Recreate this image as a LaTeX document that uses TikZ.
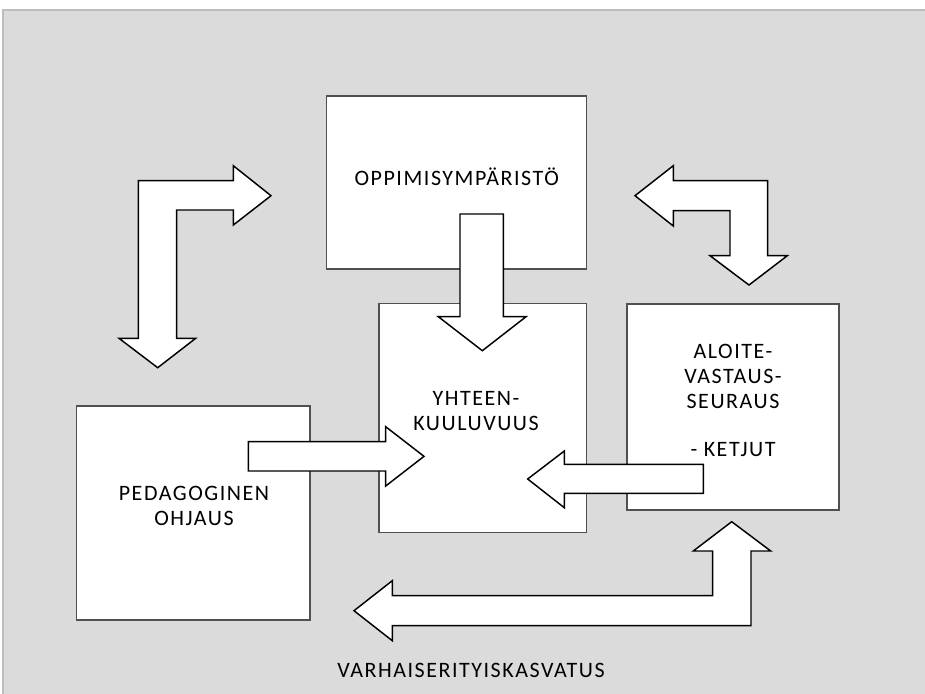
\documentclass[tikz,border=0pt]{standalone}
\usepackage{fontspec}
\setmainfont{Carlito}[LetterSpace=7]
\definecolor{canvas}{HTML}{DBDBDB}
\definecolor{frameline}{HTML}{BDBDBD}
\definecolor{boxline}{HTML}{505050}
\begin{document}
\begin{tikzpicture}[x=0.75pt,y=-0.75pt,
  box/.style={draw=boxline, fill=white, line width=1.1pt, inner sep=0pt},
  blockarrow/.style={draw=black, fill=white, line width=1.1pt, line join=miter},
  label/.style={inner sep=0pt, align=center, font=\fontsize{16.5}{18.75}\selectfont}]
\useasboundingbox (0,0) rectangle (925,693);
\fill[white] (0,0) rectangle (925,693);
\filldraw[fill=canvas, draw=frameline, line width=0.8pt] (3,10) rectangle (927,695);

% the four concept boxes
\node[box, minimum width=195pt, minimum height=129.75pt] (oppi) at (456.7,182.5) {};
\node[box, minimum width=155.8pt, minimum height=172pt] (yhteen) at (482.85,418) {};
\node[box, minimum width=159pt, minimum height=154.5pt] (aloite) at (733,407) {};
\node[box, minimum width=175pt, minimum height=160.5pt] (ped) at (193.35,513) {};

% bent double arrow, upper left
\draw[blockarrow] (271,195.7) -- (233.3,165.7) -- (233.3,180.7) -- (138.3,180.7)
  -- (138.3,338.3) -- (119,338.3) -- (157.7,367.7) -- (195.7,338.3) -- (176.7,338.3)
  -- (176.7,210) -- (233.3,210) -- (233.3,225) -- cycle;

% bent double arrow, upper right
\draw[blockarrow] (635,195.7) -- (673.3,165.7) -- (673.3,180.7) -- (767.7,180.7)
  -- (767.7,255.7) -- (787.3,255.7) -- (749,285) -- (710,255.7) -- (730,255.7)
  -- (730,210.7) -- (673.3,210.7) -- (673.3,226) -- cycle;

% down arrow into the centre box
\draw[blockarrow] (460,214) -- (503.3,214) -- (503.3,316.7) -- (526,316.7)
  -- (482.3,350.7) -- (438.3,316.7) -- (460,316.7) -- cycle;

% arrow from the left box
\draw[blockarrow] (248.3,441.7) -- (385.7,441.7) -- (385.7,426.7) -- (424,456.35)
  -- (385.7,486) -- (385.7,471) -- (248.3,471) -- cycle;

% arrow from the right box
\draw[blockarrow] (703.3,464.3) -- (564.3,464.3) -- (564.3,451) -- (527.7,479)
  -- (564.3,507.7) -- (564.3,493.3) -- (703.3,493.3) -- cycle;

% bent double arrow along the bottom
\draw[blockarrow] (354,610.7) -- (392.3,580.7) -- (392.3,595.7) -- (712.7,595.7)
  -- (712.7,551) -- (693.3,551) -- (731.7,521.7) -- (770.7,551) -- (751,551)
  -- (751,625.7) -- (392.3,625.7) -- (392.3,640.7) -- cycle;

% labels
\node[label] (toppi) at (456.7,176.7) {OPPIMISYMPÄRISTÖ};
\node[label] (tyht) at (476,411.5) {YHTEEN-\\KUULUVUUS};
\node[label, anchor=north] (talo) at (733,344) {ALOITE-\\VASTAUS-\\SEURAUS\\[17pt]- KETJUT};
\node[label] (tped) at (194,505.8) {PEDAGOGINEN\\OHJAUS};
\node[label] (tvarh) at (471,670.7) {VARHAISERITYISKASVATUS};
\end{tikzpicture}
\end{document}
